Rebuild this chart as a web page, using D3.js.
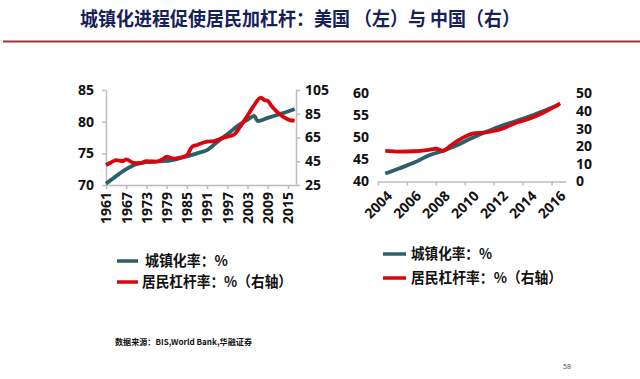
<!DOCTYPE html>
<html><head><meta charset="utf-8">
<script src="https://cdn.jsdelivr.net/npm/d3@7"></script>
<style>
html,body{margin:0;padding:0;background:#fff;}
svg{display:block;}
.num{font-family:"Open Sans","DejaVu Sans",sans-serif;font-weight:700;font-size:14px;fill:#111;}
.cjk{font-family:"Noto Sans CJK SC",sans-serif;font-weight:700;}
</style></head>
<body>
<svg id="c" width="640" height="379"></svg>
<script>
// ---- data ----
const usUrbanYears = [1961,1964,1967,1970,1973,1976,1979,1982,1985,1988,1991,1994,1997,2000,2003,2005,2006,2009,2012,2015,2017];
const usUrban      = [70.2,71.4,72.5,73.3,73.6,73.7,73.8,74.1,74.5,75.0,75.5,76.8,78.0,79.3,80.3,80.9,80.1,80.6,81.1,81.6,82.0];
const usLevYears = [1961,1962.5,1964,1966,1967,1969,1971,1973,1976,1978,1979,1980,1981,1983,1985,1986.5,1988,1991,1993,1996,1999,2000.8,2002.8,2004.7,2007,2008,2009,2010,2011.7,2013.6,2015.6,2017];
const usLev      = [41.8,44.0,46.0,45.2,46.6,43.8,43.3,45.0,44.7,47.0,48.8,48.0,47.2,48.0,50.0,57.0,58.7,61.5,62.0,65.0,67.5,74.0,82.5,91.0,98.5,96.5,96.0,92.0,86.7,82.3,79.7,79.2];
const usXTicks = [1961,1967,1973,1979,1985,1991,1997,2003,2009,2015];
const usLeftTicks = [70,75,80,85];
const usRightTicks = [25,45,65,85,105];

const cnYears = [2004,2005,2006,2007,2008,2009,2010,2011,2012,2013,2014,2015,2016];
const cnUrban = [41.8,43.0,44.3,45.9,47.0,48.3,49.9,51.3,52.6,53.7,54.8,56.1,57.4];
const cnLevYears = [2004,2005,2006,2007,2007.5,2008,2008.5,2009,2009.65,2010.1,2010.8,2012,2013.1,2014,2014.95,2016.1];
const cnLev      = [17.4,17.0,17.2,18.0,18.6,17.4,20.3,23.1,26.0,27.3,27.8,29.7,33.5,35.8,39.2,44.4];
const cnXLabels = [2004,2006,2008,2010,2012,2014,2016];
const cnLeftTicks = [40,45,50,55,60];
const cnRightTicks = [0,10,20,30,40,50];

const titleText = "城镇化进程促使居民加杠杆：美国 （左）与 中国（右）";
const legendUrban = "城镇化率：%";
const legendLev = "居民杠杆率：%（右轴）";
const sourceText = "数据来源：BIS,World Bank,华融证券";

const TEAL = "#2b5f6c", RED = "#d9070d", AXIS = "#bdbdbd";

const svg = d3.select("#c");

// title
svg.append("text").attr("class","cjk").attr("x",80).attr("y",26)
  .attr("font-size",19).attr("fill","#16215a")
  .attr("textLength",440).attr("lengthAdjust","spacingAndGlyphs")
  .text(titleText);
svg.append("line").attr("x1",3).attr("x2",640).attr("y1",41.5).attr("y2",41.5)
  .attr("stroke","#a2322e").attr("stroke-width",2.2);

// ---- US chart ----
const xU = d3.scaleLinear().domain([1961,2017.4]).range([106,296]);
const yUL = d3.scaleLinear().domain([70,85]).range([185,90]);
const yUR = d3.scaleLinear().domain([25,105]).range([185,90]);
const gU = svg.append("g");

function styleAxis(g){
  g.selectAll("path.domain").attr("stroke",AXIS).attr("stroke-width",1.5);
  g.selectAll(".tick line").attr("stroke",AXIS).attr("stroke-width",1.5);
  g.selectAll(".tick text").attr("class","num").attr("font-family",null).attr("font-size",null).attr("fill",null);
}
const axL = gU.append("g").attr("transform","translate(106,0)")
  .call(d3.axisLeft(yUL).tickValues(usLeftTicks).tickSize(4).tickSizeOuter(0).tickPadding(8));
styleAxis(axL);
const axR = gU.append("g").attr("transform","translate(296,0)")
  .call(d3.axisRight(yUR).tickValues(usRightTicks).tickSize(4).tickSizeOuter(0).tickPadding(5));
styleAxis(axR);
const axB = gU.append("g").attr("transform","translate(0,185)")
  .call(d3.axisBottom(xU).tickValues(usXTicks).tickFormat(d3.format("d")).tickSize(4).tickSizeOuter(0));
styleAxis(axB);
axB.selectAll(".tick text").attr("text-anchor","end").attr("transform","rotate(-90)")
  .attr("x",-7).attr("y",0).attr("dy","0.35em");

const lineUrbanU = d3.line().x((d,i)=>xU(usUrbanYears[i])).y(d=>yUL(d)).curve(d3.curveMonotoneX);
const lineLevU = d3.line().x((d,i)=>xU(usLevYears[i])).y(d=>yUR(d)).curve(d3.curveMonotoneX);
gU.append("path").attr("d",lineUrbanU(usUrban)).attr("fill","none").attr("stroke",TEAL).attr("stroke-width",3.8);
gU.append("path").attr("d",lineLevU(usLev)).attr("fill","none").attr("stroke",RED).attr("stroke-width",3.8).attr("stroke-linejoin","round");

// ---- China chart ----
const xC = d3.scaleLinear().domain([2003.5,2016.5]).range([378,566]);
const yCL = d3.scaleLinear().domain([40,60]).range([181.5,93.5]);
const yCR = d3.scaleLinear().domain([0,50]).range([181.5,93.5]);
const gC = svg.append("g");
const cL = gC.append("g").attr("transform","translate(378,0)")
  .call(d3.axisLeft(yCL).tickValues(cnLeftTicks).tickSize(0).tickPadding(9));
styleAxis(cL); cL.select("path.domain").remove();
const cR = gC.append("g").attr("transform","translate(566,0)")
  .call(d3.axisRight(yCR).tickValues(cnRightTicks).tickSize(0).tickPadding(10));
styleAxis(cR); cR.select("path.domain").remove();
const cB = gC.append("g").attr("transform","translate(0,181.5)")
  .call(d3.axisBottom(xC).tickValues(cnXLabels.map(d=>d-0.5)).tickFormat("").tickSize(4).tickSizeOuter(0));
styleAxis(cB);
gC.selectAll("text.xl").data(cnXLabels).join("text").attr("class","num")
  .attr("text-anchor","end")
  .attr("transform",d=>`translate(${xC(d)+1},${190}) rotate(-45)`)
  .attr("dy","0.7em")
  .text(d=>d);

const lineUrbanC = d3.line().x((d,i)=>xC(cnYears[i])).y(d=>yCL(d)).curve(d3.curveMonotoneX);
const lineLevC = d3.line().x((d,i)=>xC(cnLevYears[i])).y(d=>yCR(d)).curve(d3.curveMonotoneX);
gC.append("path").attr("d",lineUrbanC(cnUrban)).attr("fill","none").attr("stroke",TEAL).attr("stroke-width",3.8);
gC.append("path").attr("d",lineLevC(cnLev)).attr("fill","none").attr("stroke",RED).attr("stroke-width",3.8).attr("stroke-linejoin","round");

// ---- legends ----
function legend(x0,y1,y2,tx1,tx2,sw,w1,w2){
  svg.append("line").attr("x1",x0).attr("x2",x0+sw).attr("y1",y1).attr("y2",y1).attr("stroke",TEAL).attr("stroke-width",3.5);
  svg.append("line").attr("x1",x0).attr("x2",x0+sw).attr("y1",y2).attr("y2",y2).attr("stroke",RED).attr("stroke-width",3.5);
  svg.append("text").attr("class","cjk").attr("x",tx1).attr("y",y1).attr("dy","0.36em").attr("font-size",14.5).attr("fill","#111")
    .attr("textLength",w1).attr("lengthAdjust","spacingAndGlyphs").text(legendUrban);
  svg.append("text").attr("class","cjk").attr("x",tx2).attr("y",y2).attr("dy","0.36em").attr("font-size",14.5).attr("fill","#111")
    .attr("textLength",w2).attr("lengthAdjust","spacingAndGlyphs").text(legendLev);
}
legend(117,261,282,145,142,21,83,150);
legend(383,254,278,411,411,23,81,151);

// source & page
svg.append("text").attr("class","cjk").attr("x",115).attr("y",345).attr("font-size",8).attr("fill","#111")
  .attr("textLength",137).attr("lengthAdjust","spacingAndGlyphs").text(sourceText);
svg.append("text").attr("x",563).attr("y",369).attr("font-family","Open Sans,sans-serif").attr("font-size",7).attr("fill","#444").text("58");
</script>
</body></html>
